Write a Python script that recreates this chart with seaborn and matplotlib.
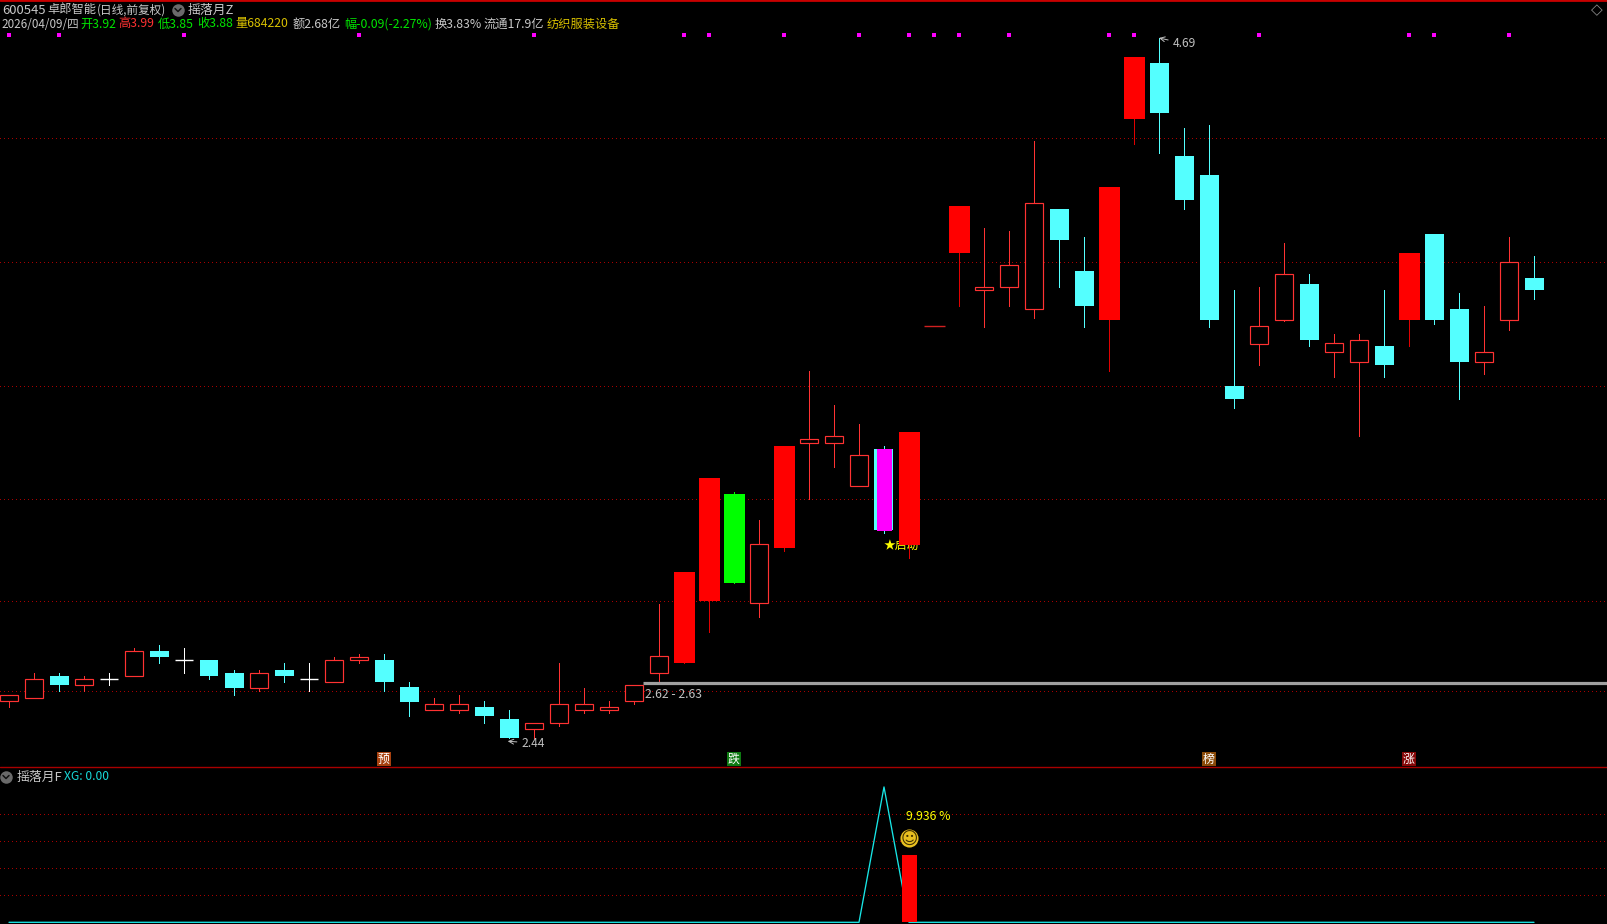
import matplotlib
matplotlib.use('Agg')
import matplotlib.pyplot as plt
from matplotlib.lines import Line2D
import numpy as np
import pandas as pd
import seaborn as sns

# daily candles
opens = [2.56,2.57,2.64,2.61,2.63,2.64,2.72,2.69,2.69,2.65,2.60,2.66,2.63,2.62,2.69,2.69,2.605,2.53,2.53,2.54,
         2.50,2.47,2.49,2.53,2.53,2.56,2.65,2.68,2.88,3.225,2.873,3.05,3.39,3.39,3.25,3.37,3.06,3.765,4.00,3.88,
         3.89,3.82,4.14,3.94,3.785,4.43,4.61,4.31,4.25,3.57,3.705,3.785,3.90,3.68,3.65,3.70,3.785,4.06,3.82,3.65,
         3.785,3.92]
highs = [2.58,2.65,2.65,2.64,2.65,2.73,2.74,2.73,2.69,2.66,2.66,2.68,2.68,2.70,2.71,2.71,2.62,2.57,2.58,2.56,
         2.53,2.49,2.68,2.60,2.56,2.61,2.87,2.975,3.275,3.23,3.14,3.38,3.62,3.51,3.45,3.38,3.425,3.765,4.15,4.08,
         4.07,4.36,4.14,4.05,4.21,4.63,4.69,4.40,4.41,3.88,3.89,4.03,3.93,3.74,3.74,3.88,4.00,4.06,3.87,3.83,
         4.05,3.99]
lows = [2.54,2.57,2.59,2.59,2.61,2.64,2.68,2.65,2.63,2.58,2.59,2.62,2.59,2.62,2.68,2.59,2.51,2.53,2.52,2.49,
        2.44,2.44,2.48,2.52,2.52,2.55,2.62,2.68,2.78,2.94,2.83,3.04,3.21,3.31,3.25,3.10,3.02,3.765,3.83,3.76,
        3.83,3.79,3.89,3.76,3.62,4.35,4.32,4.14,3.76,3.50,3.64,3.78,3.70,3.60,3.41,3.60,3.70,3.77,3.53,3.61,
        3.75,3.85]
closes = [2.58,2.63,2.61,2.63,2.63,2.72,2.70,2.69,2.64,2.60,2.65,2.64,2.63,2.69,2.70,2.62,2.555,2.55,2.55,2.51,
          2.44,2.49,2.55,2.55,2.54,2.61,2.703,2.975,3.275,2.94,3.063,3.38,3.40,3.41,3.35,3.11,3.425,3.765,4.15,3.89,
          3.96,4.16,4.04,3.83,4.21,4.63,4.45,4.17,3.785,3.53,3.765,3.93,3.72,3.71,3.72,3.64,4.00,3.785,3.65,3.68,
          3.97,3.88]
# h hollow red, f filled red, c cyan, x white cross, g green, m magenta, d one price dash
kinds = ['h','h','c','h','x','h','c','x','c','c','h','c','x','h','h','c','c','h','h','c',
         'c','h','h','h','h','h','h','f','f','g','h','f','h','h','h','m','f','d','f','h',
         'h','h','c','c','f','f','c','c','c','c','h','h','c','h','h','c','f','c','c','h',
         'h','c']

marker_days = [0,2,7,14,21,27,28,31,34,36,37,38,40,44,45,50,56,57,60]
marker_price = 4.70
grid_prices = [4.37,3.97,3.57,3.21,2.88,2.59]
support_price = 2.617

# lower panel
xg_values = [0,0,0,0,0,0,0,0,0,0,0,0,0,0,0,0,0,0,0,0,
             0,0,0,0,0,0,0,0,0,0,0,0,0,0,0,20,0,0,0,0,
             0,0,0,0,0,0,0,0,0,0,0,0,0,0,0,0,0,0,0,0,
             0,0]
gain_day = 36
gain_value = 9.936
sub_grid = [4,8,12,16]

badge_days = [15,29,48,56]
badge_text = ['预','跌','榜','涨']
badge_colors = ['#a8410f','#0e7a12','#8a4a08','#860808']

W, H = 1607, 924
PX = 0.72  # one pixel in points at dpi 100
RED = '#ff3232'
CYAN = '#54ffff'
GRID = '#a80000'
GREY = '#c0c0c0'
YELLOW = '#ffff00'

sns.set_theme(style='dark', rc={'figure.facecolor': 'black', 'axes.facecolor': 'black'})
plt.rcParams['font.family'] = ['Noto Sans CJK SC', 'DejaVu Sans']

df = pd.DataFrame({'day': np.arange(len(opens)), 'open': opens, 'high': highs,
                   'low': lows, 'close': closes, 'kind': kinds})
df['top'] = df[['open', 'close']].max(axis=1)
df['bottom'] = df[['open', 'close']].min(axis=1)

fig = plt.figure(figsize=(W / 100, H / 100), dpi=100, facecolor='black')
ax = fig.add_axes([0, 1 - 768 / H, 1, 768 / H])
sub = fig.add_axes([0, 0, 1, (H - 768) / H])
for a in (ax, sub):
    a.set_axis_off()
    a.set_xlim(-0.36, 63.92)
ax.set_ylim(2.344, 4.812)
sub.set_ylim(-0.25, 22.8)

dotted = (0, (1, 3))
for p in grid_prices:
    ax.axhline(p, color=GRID, lw=PX, ls=dotted, antialiased=False, zorder=1)
for v in sub_grid:
    sub.axhline(v, color=GRID, lw=PX, ls=dotted, antialiased=False, zorder=1)
ax.axhline(4.812, color='#c80000', lw=2, clip_on=False, zorder=6)
ax.axhline(2.348, color='#a80000', lw=1.0, clip_on=False, zorder=6)

# star label sits behind the next candle
ax.text(35.0, 3.06, '★启动', color=YELLOW, fontsize=8.5, ha='left', va='center', zorder=2)

wick_colors = {'h': RED, 'f': '#e00000', 'c': CYAN, 'x': 'white', 'g': '#00ff00', 'm': CYAN, 'd': RED}
for kind, part in df.groupby('kind'):
    if kind == 'd':
        continue
    ax.vlines(part['day'], part['low'], part['high'], color=wick_colors[kind], lw=PX,
              antialiased=False, zorder=3)

hollow = df[df['kind'] == 'h']
ax.bar(hollow['day'], hollow['top'] - hollow['bottom'], bottom=hollow['bottom'], width=0.74,
       facecolor='black', edgecolor=RED, linewidth=0.85, zorder=4)
filled = df[df['kind'] == 'f']
ax.bar(filled['day'], filled['top'] - filled['bottom'], bottom=filled['bottom'], width=0.84,
       color='#ff0000', linewidth=0, zorder=4)
green = df[df['kind'] == 'g']
ax.bar(green['day'], green['top'] - green['bottom'], bottom=green['bottom'], width=0.84,
       color='#00ff00', linewidth=0, zorder=4)
cyan = df[df['kind'].isin(['c', 'm'])]
ax.bar(cyan['day'], cyan['top'] - cyan['bottom'], bottom=cyan['bottom'], width=0.76,
       color=CYAN, linewidth=0, zorder=4)
magenta = df[df['kind'] == 'm']
ax.bar(magenta['day'], magenta['top'] - magenta['bottom'] + 0.004, bottom=magenta['bottom'] - 0.004,
       width=0.6, color='#ff00ff', linewidth=0, zorder=5)
cross = df[df['kind'] == 'x']
ax.hlines(cross['close'], cross['day'] - 0.37, cross['day'] + 0.37, color='white', lw=1.0, zorder=4)
dash = df[df['kind'] == 'd']
ax.hlines(dash['close'], dash['day'] - 0.42, dash['day'] + 0.42, color='#d02020', lw=1.0, zorder=4)

marks = pd.DataFrame({'day': marker_days, 'price': marker_price})
sns.scatterplot(data=marks, x='day', y='price', ax=ax, color='#ff00ff', marker='s', s=7,
                linewidth=0, zorder=5, legend=False)

ax.hlines(support_price, 25.35, 64, color='#a0a0a0', lw=2.3, zorder=5)
ax.text(25.45, 2.58, '2.62 - 2.63', color=GREY, fontsize=8.8, va='center', ha='left', zorder=6)

ax.annotate('4.69', xy=(46, 4.69), xytext=(46.55, 4.672), color=GREY, fontsize=8.7, va='center',
            arrowprops=dict(arrowstyle='->', color=GREY, lw=0.7, shrinkA=1, shrinkB=0), zorder=6)
ax.annotate('2.44', xy=(19.95, 2.43), xytext=(20.5, 2.424), color=GREY, fontsize=8.7, va='center',
            arrowprops=dict(arrowstyle='->', color=GREY, lw=0.7, shrinkA=1, shrinkB=0), zorder=6)

for day, txt, col in zip(badge_days, badge_text, badge_colors):
    ax.text(day, 2.3725, txt, color='white', fontsize=8.6, ha='center', va='center', zorder=6,
            bbox=dict(boxstyle='square,pad=0.06', facecolor=col, edgecolor='none'))

# lower panel
sub_df = pd.DataFrame({'day': df['day'], 'xg': xg_values})
sns.lineplot(data=sub_df, x='day', y='xg', ax=sub, color='#18e6e6', lw=0.95, zorder=3, legend=False)
gain = pd.DataFrame({'day': [gain_day], 'gain': [gain_value]})
sub.bar(gain['day'], gain['gain'], width=0.6, color='#ff0000', linewidth=0, zorder=4)
sub.set_xlabel('')
sub.set_ylabel('')
sub.text(gain_day - 0.1, 15.6, f'{gain_value} %', color=YELLOW, fontsize=8.8, ha='left', va='center', zorder=6)
sns.scatterplot(x=[gain_day], y=[12.45], ax=sub, color='#e8c020', s=170, linewidth=0, zorder=5, legend=False)
sub.text(gain_day, 12.3, '☺', color='#403000', fontsize=12, ha='center', va='center', zorder=6,
         family='DejaVu Sans')


def put(x, y, s, color, size=9.3):
    fig.text(x / W, 1 - y / H, s, color=color, fontsize=size, ha='left', va='center', zorder=10)


def icon(x, y):
    # little round button with a chevron
    fx, fy = x / W, 1 - y / H
    fig.add_artist(Line2D([fx], [fy], marker='o', ms=9, mfc='#6a6a6a', mec='none',
                          transform=fig.transFigure))
    fig.add_artist(Line2D([(x - 3) / W, x / W, (x + 3) / W], [1 - (y - 1.5) / H, 1 - (y + 1.5) / H, 1 - (y - 1.5) / H],
                          color='#111111', lw=1.1, transform=fig.transFigure))


LIGHT = '#c8c8c8'
GR = '#00e600'
put(2, 10, '600545', LIGHT, 9.4)
put(47, 10, '卓郎智能', LIGHT, 8.8)
put(97, 10, '(日线,前复权)', LIGHT, 8.4)
icon(178, 10)
put(188, 10, '摇落月Z', LIGHT)
put(1, 24, '2026/04/09/四', LIGHT, 8.4)
put(80, 24, '开3.92', GR, 8.8)
put(118, 24, '高3.99', '#ff3232', 8.8)
put(158, 24, '低3.85', GR, 8.8)
put(197, 24, '收3.88', GR, 8.8)
put(235, 24, '量684220', '#d8c000', 8.8)
put(293, 24, '额2.68亿', LIGHT, 8.8)
put(344, 24, '幅-0.09(-2.27%)', GR, 8.8)
put(435, 24, '换3.83%', LIGHT, 8.8)
put(484, 24, '流通17.9亿', LIGHT, 8.8)
put(547, 24, '纺织服装设备', '#d8c000', 8.8)
icon(6, 777)
put(17, 777, '摇落月F', LIGHT)
put(64, 777, 'XG: 0.00', '#18d8d8', 8.7)
fig.text(1597 / W, 1 - 10 / H, '◇', color='#8a8a8a', fontsize=11, ha='center', va='center', family='DejaVu Sans')

fig.savefig('out.png', dpi=100, facecolor='black')
